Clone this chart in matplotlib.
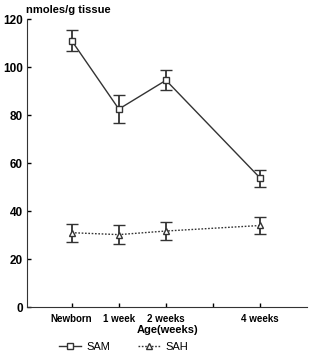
import matplotlib
matplotlib.use("Agg")
import matplotlib.pyplot as plt
from matplotlib.lines import Line2D

plt.rcParams['font.family'] = ['Liberation Sans', 'DejaVu Sans']
plt.rcParams['font.weight'] = 'bold'

x_pos = [0, 1, 2, 4]
tick_pos = [0, 1, 2, 3, 4]
tick_labels = ["Newborn", "1 week", "2 weeks", "", "4 weeks"]
sam = [111, 82.5, 94.5, 53.7]
sam_err = [4.5, 5.7, 4.2, 3.6]
sah = [31, 30.2, 31.7, 34]
sah_err = [3.7, 4.1, 3.8, 3.6]
yticks = [0, 20, 40, 60, 80, 100, 120]

col = '#333333'
fig = plt.figure(figsize=(3.09, 3.53), dpi=100)
ax = fig.add_axes([0.087, 0.130, 0.908, 0.816])

ax.errorbar(x_pos, sam, yerr=sam_err, color=col, lw=1.0, marker='s', ms=4.5,
            mfc='white', mec=col, mew=1.0, ecolor=col, elinewidth=1.3,
            capsize=4.5, capthick=1.5)
ax.errorbar(x_pos, sah, yerr=sah_err, color=col, lw=1.0, ls=(0, (1.2, 1.2)),
            marker='^', ms=5, mfc='white', mec=col, mew=1.0, ecolor=col,
            elinewidth=1.3, capsize=4.5, capthick=1.5)

ax.set_xlim(-0.95, 5.0)
ax.set_ylim(0, 120)
ax.set_yticks(yticks)
ax.set_xticks(tick_pos)
ax.set_xticklabels(tick_labels, fontsize=7, fontweight='bold')
ax.tick_params(axis='y', direction='in', length=3, labelsize=8.5, width=1, pad=3)
ax.tick_params(axis='x', direction='in', length=3, width=1, pad=5)
for lab in ax.get_yticklabels():
    lab.set_fontweight('bold')
ax.spines['top'].set_visible(False)
ax.spines['right'].set_visible(False)
ax.spines['left'].set_color(col)
ax.spines['bottom'].set_color(col)
ax.set_xlabel("Age(weeks)", fontsize=8, fontweight='bold', labelpad=1)
fig.text(0.085, 0.972, "nmoles/g tissue", fontsize=8, fontweight='bold',
         ha='left', va='center')

handles = [
    Line2D([], [], color=col, lw=1.0, marker='s', ms=4.5, mfc='white', mec=col),
    Line2D([], [], color=col, lw=1.0, ls=(0, (1.2, 1.2)), marker='^', ms=5,
           mfc='white', mec=col),
]
fig.legend(handles, ["SAM", "SAH"], loc='center', bbox_to_anchor=(0.40, 0.017),
           ncol=2, frameon=False, fontsize=8, handlelength=2.0,
           columnspacing=2.5, handletextpad=0.5,
           prop={'weight': 'normal', 'size': 8})

fig.savefig("out.png", dpi=100)
